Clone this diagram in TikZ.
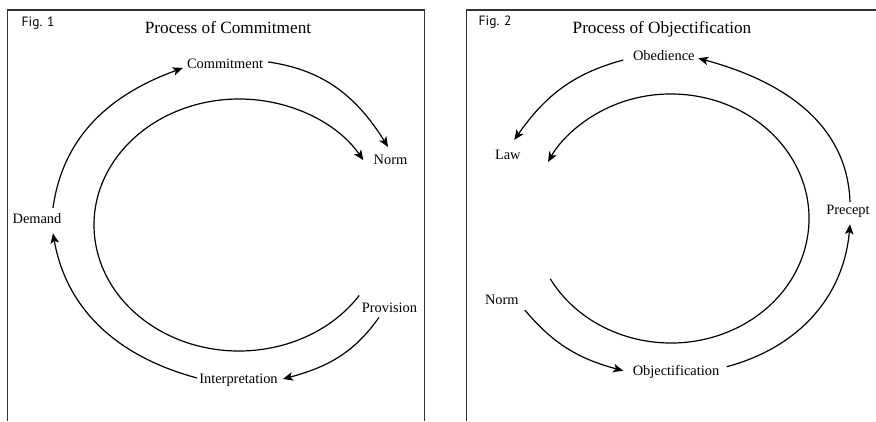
\documentclass[tikz,border=0pt]{standalone}
\usepackage{fontspec}
\setmainfont{Liberation Serif}
\newfontfamily\figfont{PT Sans}
\usepackage{tikz}
\usetikzlibrary{arrows.meta,positioning}
\tikzstyle{lbl} = [font=\fontsize{14.4}{17}\selectfont, inner sep=0pt, anchor=base]
\tikzstyle{ttl} = [font=\fontsize{17.2}{20}\selectfont, inner sep=0pt, anchor=base]
\tikzstyle{figlbl} = [font=\figfont\fontsize{13.5}{16}\selectfont, inner sep=0pt, anchor=base west]
\tikzstyle{conn} = [-{Stealth[length=10pt,width=8.5pt,inset=2.5pt]}, line width=1.2pt]
\tikzstyle{frame} = [draw=black!80, line width=1.4pt]

\begin{document}
\begin{tikzpicture}[x=1pt, y=1pt]
  \useasboundingbox (0,0) rectangle (876,421);
  % Frames
  \draw [frame] (7.3,0) -- (7.3,411) -- (424.7,411) -- (424.7,0);
  \draw [frame] (466.7,0) -- (466.7,411) -- (880,411);

  % Fig. 1: place nodes
  \node [figlbl] (fig1) at (21.5,394.5) {Fig. 1};
  \node [ttl] (t1) at (228,387) {Process of Commitment};
  \node [lbl] (com) at (225,352) {Commitment};
  \node [lbl] (norm1) at (390.5,256) {Norm};
  \node [lbl] (dem) at (37,197) {Demand};
  \node [lbl] (prov) at (389.5,109) {Provision};
  \node [lbl] (interp) at (238.5,38) {Interpretation};
  \coordinate (c1) at (239,196);
  % Fig. 1: arcs
  \draw [conn] ([xshift=16,yshift=6]dem.north) to [out=82,in=200] ([xshift=-4,yshift=1]com.base west);
  \draw [conn] ([xshift=5,yshift=7]com.base east) to [out=-8,in=122] ([xshift=-2.5,yshift=8.5]norm1.north);
  \draw [conn] ([xshift=-10.5,yshift=-5]prov.south) to [out=235,in=15] ([xshift=5,yshift=4]interp.base east);
  \draw [conn] ([xshift=-2,yshift=5]interp.base west) to [out=165,in=-80] ([xshift=16,yshift=-9]dem.south);
  \draw [conn] (c1) ++(-34:145 and 126) arc [start angle=-34, end angle=-329, x radius=145, y radius=126];

  % Fig. 2: place nodes
  \node [figlbl] (fig2) at (478.5,395) {Fig. 2};
  \node [ttl] (t2) at (662,387.5) {Process of Objectification};
  \node [lbl] (obe) at (663.8,360) {Obedience};
  \node [lbl] (law) at (507.8,261) {Law};
  \node [lbl] (prec) at (848,206) {Precept};
  \node [lbl] (norm2) at (501.8,117) {Norm};
  \node [lbl] (obj) at (676,46) {Objectification};
  \coordinate (c2) at (671,202.5);
  % Fig. 2: arcs
  \draw [conn] ([xshift=-9.5,yshift=1]obe.base west) to [out=195,in=55] ([xshift=6.5,yshift=10.5]law.north);
  \draw [conn] ([xshift=2,yshift=3.5]prec.north) to [out=92,in=-15] ([xshift=3.5,yshift=2.7]obe.base east);
  \draw [conn] ([xshift=6,yshift=-6]norm2.base east) to [out=-50,in=165] ([xshift=-9.4,yshift=4.3]obj.base west);
  \draw [conn] ([xshift=7.4,yshift=8.3]obj.base east) to [out=15,in=265] ([xshift=2,yshift=-6]prec.south);
  \draw [conn] (c2) ++(209:138 and 124.5) arc [start angle=209, end angle=513, x radius=138, y radius=124.5];
\end{tikzpicture}
\end{document}
